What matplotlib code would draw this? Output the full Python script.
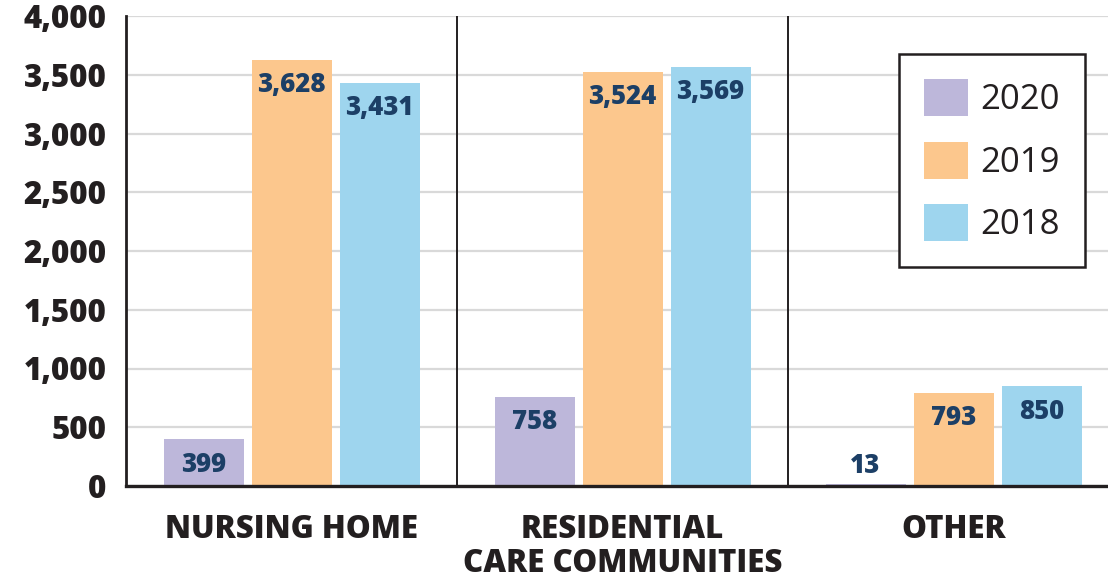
import matplotlib
matplotlib.use("Agg")
import matplotlib.pyplot as plt
from matplotlib.patches import Patch
import numpy as np

categories = ["NURSING HOME", "RESIDENTIAL\nCARE COMMUNITIES", "OTHER"]
series_names = ["2020", "2019", "2018"]
values_2020 = [399, 758, 13]
values_2019 = [3628, 3524, 793]
values_2018 = [3431, 3569, 850]
yticks = [0, 500, 1000, 1500, 2000, 2500, 3000, 3500, 4000]

colors = ["#bdb7da", "#fcc78d", "#9ed5ee"]
label_color = "#1c3f66"
text_color = "#231f20"

plt.rcParams['font.family'] = ['Open Sans', 'DejaVu Sans']

fig = plt.figure(figsize=(11.08, 5.81), dpi=100)
ax = fig.add_axes([126/1108, 95/581, 1 - 126/1108, (486-16)/581])

x = np.arange(len(categories))
bw = 80/331
step = 88/331
all_series = [values_2020, values_2019, values_2018]
for i, (vals, c) in enumerate(zip(all_series, colors)):
    pos = x + (i - 1) * step
    ax.bar(pos, vals, width=bw, color=c, zorder=3)
    for px, v in zip(pos, vals):
        if v < 200:
            ax.annotate(f"{v:,}", (px, v), xytext=(0, 4), textcoords="offset points",
                        ha="center", va="bottom", fontsize=18.5, fontweight="heavy",
                        color=label_color, zorder=4)
        else:
            ax.annotate(f"{v:,}", (px, v), xytext=(0, -9), textcoords="offset points",
                        ha="center", va="top", fontsize=18.5, fontweight="heavy",
                        color=label_color, zorder=4)

ax.set_xlim(-0.5, 2.5 - 11/331)
ax.set_ylim(0, 4000)
ax.set_yticks(yticks)
ax.set_yticklabels([f"{t:,}" for t in yticks], fontsize=22.5, fontweight="heavy", color=text_color)
ax.set_xticks(x)
ax.set_xticklabels(categories, fontsize=22.5, fontweight="heavy", color=text_color, linespacing=1.1)
ax.tick_params(axis="both", length=0)
ax.tick_params(axis="y", pad=14)
ax.tick_params(axis="x", pad=20)

ax.yaxis.grid(True, color="#d9d9d9", linewidth=1.6, zorder=0)
ax.set_axisbelow(True)
for sep in [0.5, 1.5]:
    ax.axvline(sep, color=text_color, linewidth=1.4, zorder=2)

for s in ["top", "right"]:
    ax.spines[s].set_visible(False)
ax.spines["left"].set_color(text_color)
ax.spines["left"].set_linewidth(2)
ax.spines["bottom"].set_color(text_color)
ax.spines["bottom"].set_linewidth(2.4)
ax.spines["bottom"].set_zorder(5)

handles = [Patch(facecolor=c, edgecolor="none") for c in colors]
leg = ax.legend(handles, series_names, loc="upper left",
                bbox_to_anchor=(899/1108, 1 - 54/581), bbox_transform=fig.transFigure,
                fontsize=25, frameon=True, fancybox=False, framealpha=1,
                edgecolor=text_color, handlelength=1.27, handleheight=1.27,
                labelspacing=0.7, borderpad=0.72, handletextpad=0.35, borderaxespad=0)
leg.get_frame().set_linewidth(1.8)
for t in leg.get_texts():
    t.set_color(text_color)

fig.savefig("out.png", dpi=100)
